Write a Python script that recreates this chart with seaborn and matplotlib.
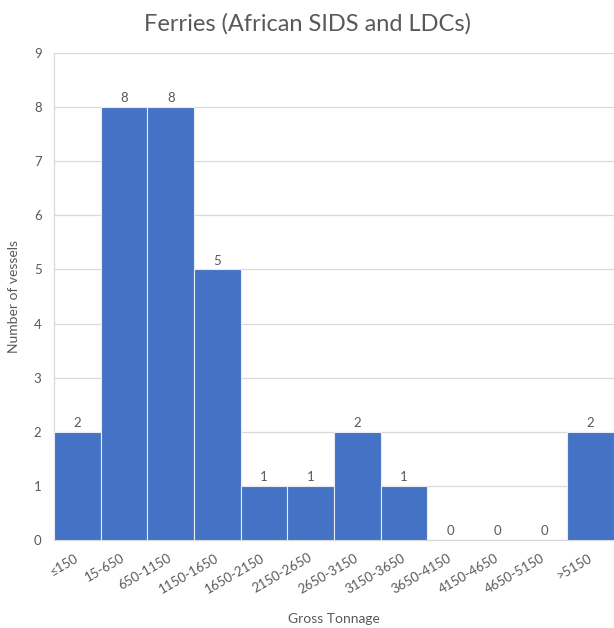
import matplotlib
matplotlib.use("Agg")
import matplotlib.pyplot as plt
import seaborn as sns
import pandas as pd

categories = ["≤150", "15-650", "650-1150", "1150-1650", "1650-2150", "2150-2650",
              "2650-3150", "3150-3650", "3650-4150", "4150-4650", "4650-5150", ">5150"]
vessels = [2, 8, 8, 5, 1, 1, 2, 1, 0, 0, 0, 2]
y_ticks = list(range(0, 10))

sns.set_theme(style="white")
plt.rcParams["font.family"] = ["Lato", "DejaVu Sans"]

text_color = "#595959"
bar_color = "#4472C4"

df = pd.DataFrame({"Gross Tonnage": categories, "Number of vessels": vessels})

fig = plt.figure(figsize=(6.14, 6.28), dpi=100)
ax = fig.add_axes([0.088, 0.140, 0.912, 0.7756])

sns.barplot(data=df, x="Gross Tonnage", y="Number of vessels", color=bar_color,
            width=1.0, edgecolor="#e8ecf5", linewidth=0.8, saturation=1, ax=ax, zorder=3)

ax.set_xlim(-0.5, len(categories) - 0.5)
ax.set_ylim(0, 9)
ax.set_yticks(y_ticks)
ax.yaxis.grid(True, color="#d9d9d9", linewidth=0.9, zorder=0)
ax.set_axisbelow(True)
for side in ["top", "right"]:
    ax.spines[side].set_visible(False)
ax.spines["left"].set_color("#d9d9d9")
ax.spines["bottom"].set_color("#d9d9d9")
ax.spines["left"].set_linewidth(0.9)
ax.spines["bottom"].set_linewidth(0.9)

ax.tick_params(axis="both", length=0, colors=text_color, labelsize=9.5)
ax.tick_params(axis="y", pad=9)
ax.tick_params(axis="x", pad=12)
plt.setp(ax.get_xticklabels(), rotation=30, ha="right", va="center",
         rotation_mode="anchor")

ax.set_xlabel("Gross Tonnage", color=text_color, fontsize=10, labelpad=13)
ax.set_ylabel("Number of vessels", color=text_color, fontsize=10, labelpad=10)
fig.suptitle("Ferries (African SIDS and LDCs)", color=text_color, fontsize=17,
             x=0.5, y=0.962, va="center")

for container in ax.containers:
    ax.bar_label(container, labels=[str(v) for v in vessels], padding=2,
                 color=text_color, fontsize=9.5)

fig.savefig("out.png", dpi=100)
